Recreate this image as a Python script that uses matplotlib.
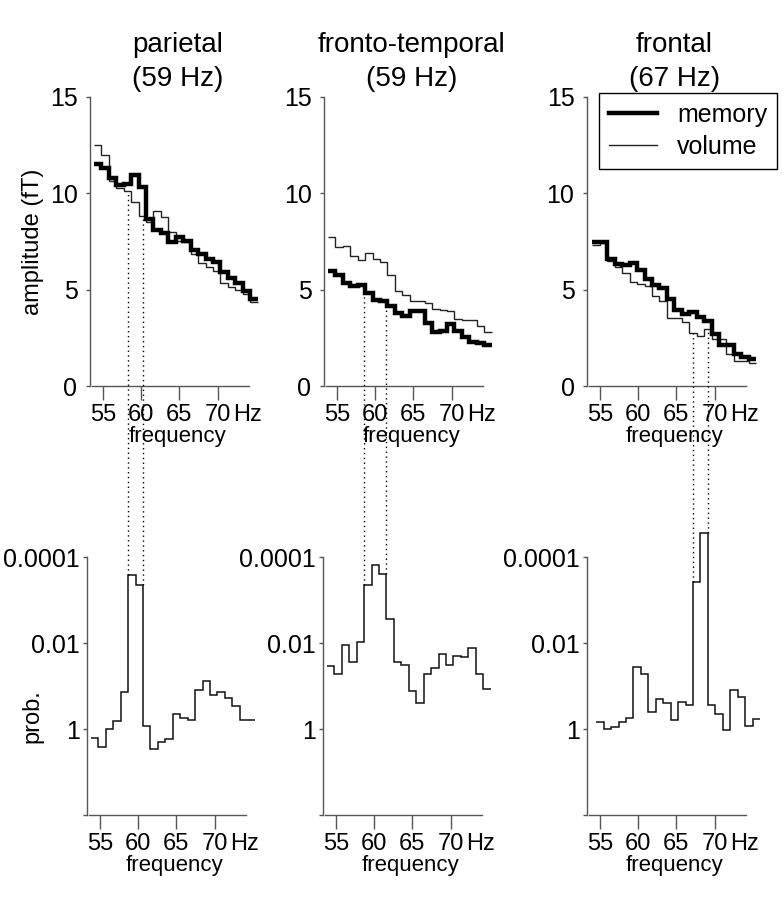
import numpy as np
import matplotlib.pyplot as plt
from matplotlib.lines import Line2D

plt.rcParams["font.family"] = ["Liberation Sans", "DejaVu Sans"]

# three sensor groups
titles = ["parietal\n(59 Hz)", "fronto-temporal\n(59 Hz)", "frontal\n(67 Hz)"]

# frequency bins (Hz): first edge per panel, bin width
f0_top = [53.8, 53.8, 54.0]
f0_bot = [53.8, 53.8, 54.5]
df = 0.975

# amplitude (fT), one value per bin
memory = [
    [11.5, 11.3, 10.8, 10.45, 10.5, 10.95, 10.35, 8.65, 8.1, 7.95, 7.5,
     7.75, 7.55, 7.05, 6.85, 6.6, 6.45, 5.9, 5.6, 5.35, 4.95, 4.5],
    [5.95, 5.75, 5.35, 5.2, 5.25, 4.85, 4.45, 4.4, 4.15, 3.8, 3.65,
     3.9, 3.9, 3.25, 2.8, 2.85, 3.2, 2.85, 2.55, 2.3, 2.25, 2.15],
    [7.5, 7.5, 6.6, 6.35, 6.3, 6.4, 6.0, 5.55, 5.25, 5.1, 4.5,
     3.95, 3.75, 3.85, 3.6, 3.35, 2.7, 2.15, 2.15, 1.65, 1.5, 1.4],
]
volume = [
    [12.5, 12.0, 10.65, 10.3, 10.1, 9.55, 8.8, 8.5, 9.1, 8.75, 8.0,
     7.55, 7.45, 6.85, 6.4, 6.2, 5.95, 5.35, 5.15, 5.0, 4.75, 4.35],
    [7.75, 7.2, 7.25, 6.75, 6.55, 6.9, 6.6, 6.45, 5.75, 4.95, 4.7,
     4.4, 4.4, 4.3, 4.0, 3.95, 3.9, 3.5, 3.4, 3.4, 3.1, 2.8],
    [7.3, 7.4, 6.5, 6.2, 5.85, 5.4, 5.3, 5.2, 4.65, 4.4, 3.55,
     3.55, 3.3, 2.75, 2.6, 2.95, 2.45, 2.45, 1.65, 1.3, 1.3, 1.2],
]

# probability, as log10(p), one value per bin
logp = [
    [0.2, 0.41, 0.0, -0.18, -0.86, -3.6, -3.36, -0.08, 0.46, 0.3, 0.24,
     -0.36, -0.25, -0.21, -0.9, -1.11, -0.8, -0.86, -0.73, -0.55, -0.21, -0.21],
    [-1.46, -1.28, -1.96, -1.57, -2.02, -3.35, -3.82, -3.62, -2.56, -1.57, -1.49,
     -0.88, -0.6, -1.29, -1.43, -1.76, -1.49, -1.71, -1.69, -1.9, -1.29, -0.93],
    [-0.17, 0.0, -0.04, -0.155, -0.25, -1.45, -1.29, -0.4, -0.7, -0.6, -0.22,
     -0.64, -0.57, -3.43, -4.57, -0.57, -0.35, 0.02, -0.91, -0.75, -0.08, -0.23],
]
# first and last bin of the marked peak
peak = [(5, 6), (5, 7), (13, 14)]

xticks = [55, 60, 65, 70, 73.9]
xticklabels = ["55", "60", "65", "70", "Hz"]
amp_ticks = [0, 5, 10, 15]
p_ticks = [1e-4, 1e-2, 1, 100]
p_labels = ["0.0001", "0.01", "1", ""]

W, H = 782, 900
fig = plt.figure(figsize=(W / 100, H / 100), dpi=100)


def add_ax(left, top, w, h):
    return fig.add_axes([left / W, 1 - (top + h) / H, w / W, h / H])


def style(ax, ypad):
    for s in ["top", "right"]:
        ax.spines[s].set_visible(False)
    for s in ["left", "bottom"]:
        ax.spines[s].set_color("#555555")
        ax.spines[s].set_linewidth(1.0)
    ax.spines["bottom"].set_bounds(53.6, 74.1)
    ax.set_xlim(53.3, 76.2)
    ax.set_xticks(xticks, xticklabels)
    ax.xaxis.get_major_ticks()[-1].tick1line.set_visible(False)
    ax.tick_params(axis="x", length=10, width=1, color="#555555",
                   labelsize=17, pad=3)
    ax.tick_params(axis="y", length=3, width=1, color="#555555",
                   labelsize=18, pad=ypad)
    ax.minorticks_off()
    ax.set_xlabel("frequency", fontsize=16, labelpad=0)


tops, bots = [], []
for k in range(3):
    et = f0_top[k] + df * np.arange(len(memory[k]) + 1)
    eb = f0_bot[k] + df * np.arange(len(logp[k]) + 1)

    ax = add_ax([90, 324, 587][k], 97, 175, 289)
    ax.stairs(volume[k], et, baseline=None, color="#222222", lw=1.0)
    ax.stairs(memory[k], et, baseline=None, color="black", lw=3.2)
    ax.set_ylim(0, 15)
    ax.set_yticks(amp_ticks)
    ax.spines["left"].set_bounds(0, 15)
    style(ax, 6)
    ax.set_title(titles[k], fontsize=20, pad=8, linespacing=1.4)
    tops.append((ax, et))

    bx = add_ax([87, 323, 587][k], 523, 175, 292)
    bx.stairs(10 ** np.array(logp[k]), eb, baseline=None, color="#111111", lw=1.1)
    bx.set_yscale("log")
    bx.set_ylim(100, 10 ** -4.8)
    bx.set_yticks(p_ticks, p_labels)
    bx.spines["left"].set_bounds(100, 1e-4)
    style(bx, 2)
    bots.append((bx, eb))

tops[0][0].set_ylabel("amplitude (fT)", fontsize=17, labelpad=4)
bots[0][0].text(-0.31, 0.5, "prob.", transform=bots[0][0].get_yaxis_transform(),
                rotation=90, fontsize=17, ha="center", va="center")

handles = [Line2D([], [], color="black", lw=3.2),
           Line2D([], [], color="#222222", lw=1.0)]
fig.legend(handles, ["memory", "volume"], loc="upper right",
           bbox_to_anchor=(777 / W, 1 - 93 / H), fontsize=18,
           frameon=True, fancybox=False, edgecolor="black", framealpha=1,
           handlelength=1.9, borderaxespad=0, borderpad=0.4, labelspacing=0.3)

# dotted connectors from the peak bins up to the amplitude curves
to_fig = fig.transFigure.inverted()
for k in range(3):
    ax, et = tops[k]
    bx, eb = bots[k]
    lo, hi = peak[k]
    for xe, j in [(eb[lo], lo), (eb[hi + 1], hi)]:
        xd, yb = bx.transData.transform((xe, 10 ** logp[k][j]))
        xt = ax.transData.inverted().transform((xd, 0))[0]
        i = int(np.clip(np.searchsorted(et, xt) - 1, 0, len(memory[k]) - 1))
        yv = min(memory[k][i], volume[k][i])
        yt = ax.transData.transform((xt, yv))[1]
        (fx0, fy0), (fx1, fy1) = to_fig.transform([(xd, yb), (xd, yt)])
        fig.add_artist(Line2D([fx0, fx1], [fy0, fy1], transform=fig.transFigure,
                              color="black", lw=1.0, ls=(0, (1, 2.5))))

fig.savefig("out.png", dpi=100)
